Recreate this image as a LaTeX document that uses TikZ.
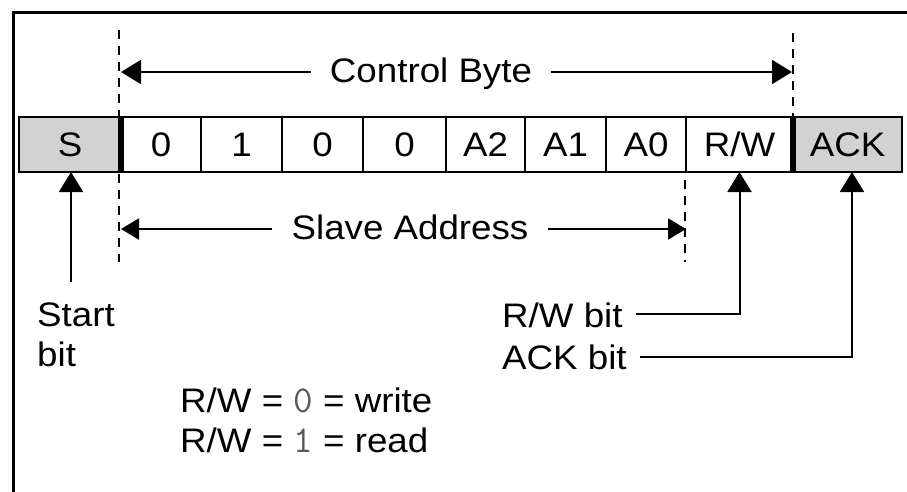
\documentclass[tikz,border=0pt]{standalone}
\usepackage{fontspec}
\setmainfont{Liberation Sans}[FakeStretch=1.08]
\usetikzlibrary{arrows.meta,positioning}
\definecolor{bitgray}{HTML}{D2D2D2}
\definecolor{digitgray}{HTML}{5A5A5A}
\newcommand{\rwdigit}[1]{{\ttfamily\fontsize{38}{40}\selectfont\color{digitgray}#1}}

\tikzset{
  bitcell/.style={draw, line width=1.5pt, minimum height=55pt, inner sep=0pt, outer sep=0pt, anchor=west},
  lbl/.style={inner sep=0pt, anchor=base west},
  spanlbl/.style={inner ysep=0pt, inner xsep=19pt, anchor=base},
  guide/.style={line width=1.5pt, dash pattern=on 9pt off 7pt},
  pointer/.style={line width=2pt, -{Triangle[width=24pt,length=20pt]}},
  spanptr/.style={line width=2pt, -{Triangle[width=21pt,length=18pt]}},
}

\begin{document}
\begin{tikzpicture}[x=1pt,y=-1pt,font=\fontsize{34}{40}\selectfont]
\useasboundingbox (0,0) rectangle (907,491);
\fill[white] (0,0) rectangle (907,491);
% outer frame (cut off at right and bottom)
\draw[line width=3pt] (912,12) -- (13,12) -- (13,496);

% the bit cells
\node[bitcell, fill=bitgray, minimum width=102pt] (s) at (19,144.5) {S};
\node[bitcell, minimum width=80pt] (d7) at (s.east) {0};
\node[bitcell, minimum width=81pt] (d6) at (d7.east) {1};
\node[bitcell, minimum width=81pt] (d5) at (d6.east) {0};
\node[bitcell, minimum width=83pt] (d4) at (d5.east) {0};
\node[bitcell, minimum width=79pt] (a2) at (d4.east) {A2};
\node[bitcell, minimum width=81pt] (a1) at (a2.east) {A1};
\node[bitcell, minimum width=80pt] (a0) at (a1.east) {A0};
\node[bitcell, minimum width=107pt] (rw) at (a0.east) {R/W};
\node[bitcell, fill=bitgray, minimum width=109pt] (ack) at (rw.east) {ACK};
\draw[line width=2pt] (s.north west) rectangle (ack.south east);
\draw[line width=6pt] (s.north east) -- (s.south east);
\draw[line width=6pt] (rw.north east) -- (rw.south east);

% dashed guides
\draw[guide] (119,30) -- (119,262);
\draw[guide] (793,33) -- (793,117);
\draw[guide] (685,180) -- (685,262);

% Control Byte span
\node[spanlbl] (ctrl) at (431,82) {Control Byte};
\coordinate (cbleft) at (121,72);
\coordinate (cbright) at (792,72);
\draw[pointer] (ctrl.west |- cbleft) -- (cbleft);
\draw[pointer] (ctrl.east |- cbright) -- (cbright);

% Slave Address span
\node[spanlbl] (slave) at (410,239) {Slave Address};
\coordinate (saleft) at (121,229);
\coordinate (saright) at (686,229);
\draw[spanptr] (slave.west |- saleft) -- (saleft);
\draw[spanptr] (slave.east |- saright) -- (saright);

% start bit
\coordinate (startfoot) at (71,282);
\draw[pointer] (startfoot) -- (startfoot |- s.south);
\node[lbl] (startlbl) at (37,326) {Start};
\node[lbl] (startbit) at (37,366) {bit};

% R/W and ACK bit
\node[lbl] (rwlbl) at (502,327) {R/W bit};
\node[lbl] (acklbl) at (502,369) {ACK bit};
\coordinate (rwturn) at (rw.south |- 0,314);
\coordinate (ackturn) at (852,357);
\draw[pointer, shorten <=13pt] (rwlbl.east |- rwturn) -- (rwturn) -- (rw.south);
\draw[pointer, shorten <=13pt] (acklbl.east |- ackturn) -- (ackturn) -- (ackturn |- ack.south);

% legend
\node[lbl] (rwzero) at (180,412) {R/W = \rwdigit{0} = write};
\node[lbl] (rwone) at (180,452) {R/W = \rwdigit{1} = read};
\end{tikzpicture}
\end{document}
